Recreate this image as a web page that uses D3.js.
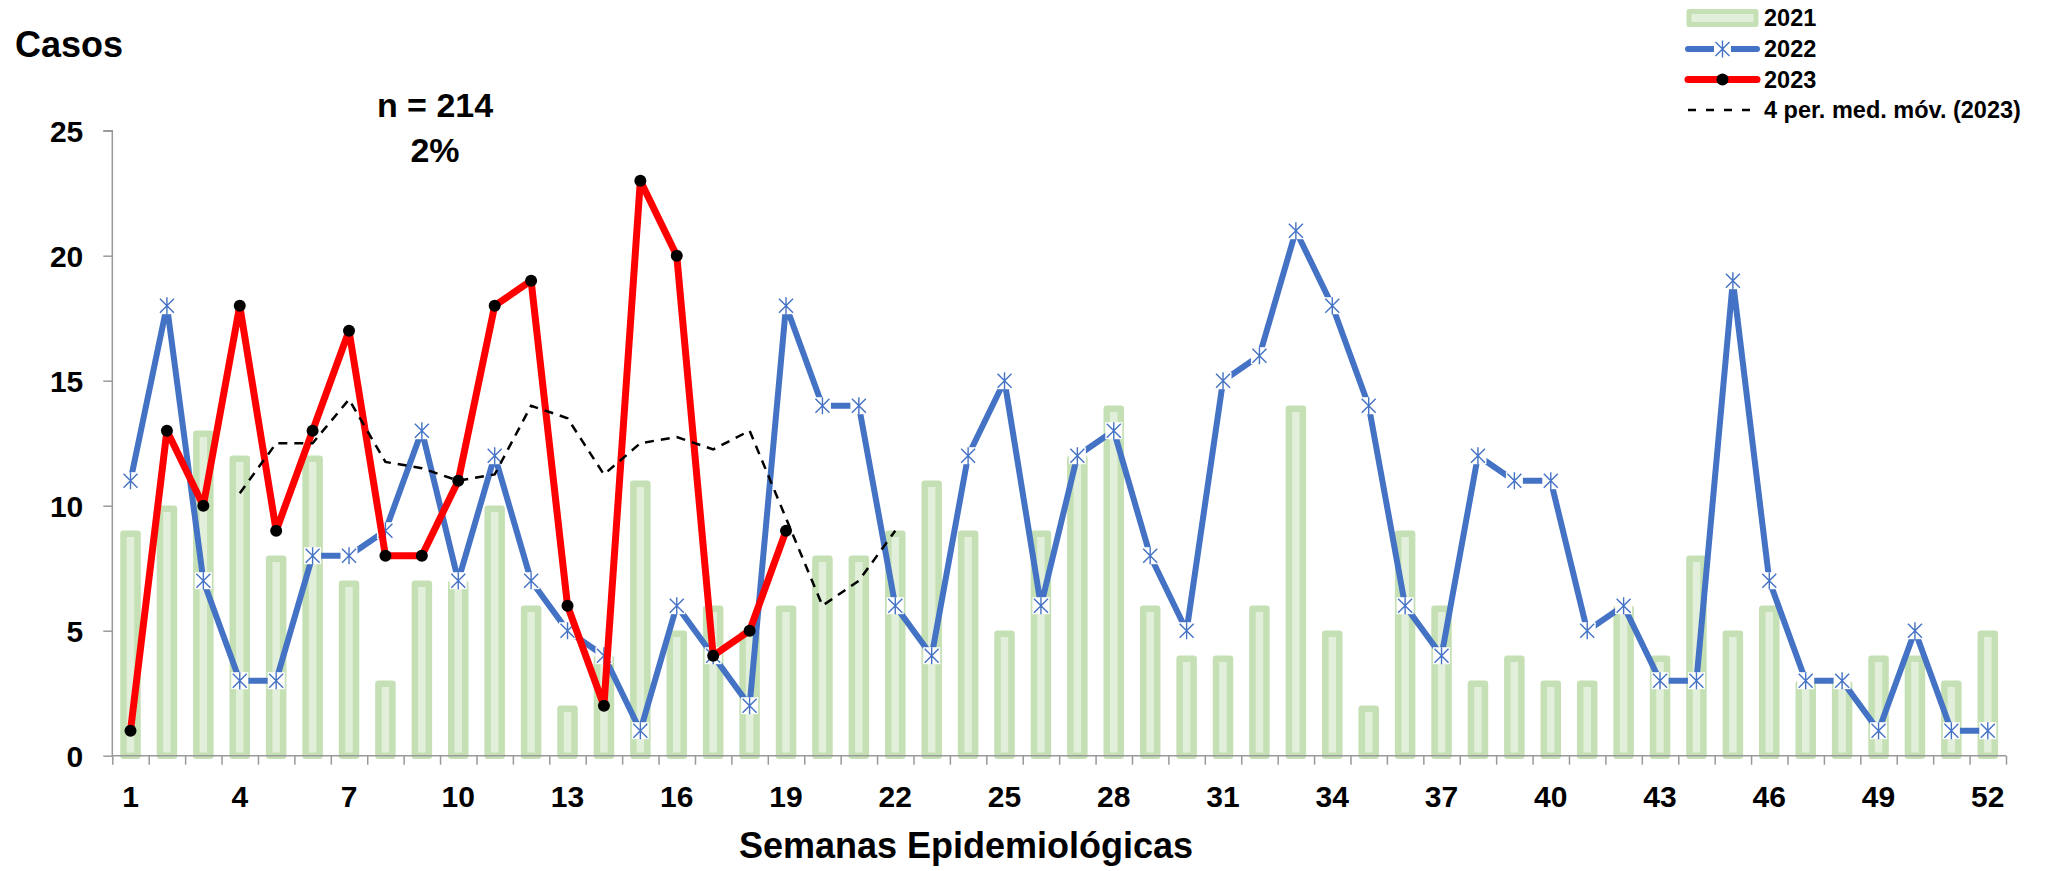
<!DOCTYPE html>
<html>
<head>
<meta charset="utf-8">
<script src="https://cdn.jsdelivr.net/npm/d3@7"></script>
<style>
  body { margin: 0; background: #fff; }
  text { font-family: "Liberation Sans", Arial, sans-serif; font-weight: bold; fill: #000; }
</style>
</head>
<body>
<div id="chart"></div>
<script>
// Data
const weeks = d3.range(1, 53);
const xLabels = [1, 4, 7, 10, 13, 16, 19, 22, 25, 28, 31, 34, 37, 40, 43, 46, 49, 52];
const yTicks = [0, 5, 10, 15, 20, 25];

const cases2021 = [9, 10, 13, 12, 8, 12, 7, 3, 7, 7, 10, 6, 2, 4, 11, 5, 6, 5, 6, 8,
  8, 9, 11, 9, 5, 9, 12, 14, 6, 4, 4, 6, 14, 5, 2, 9, 6, 3, 4, 3,
  3, 6, 4, 8, 5, 6, 3, 3, 4, 4, 3, 5];
const cases2022 = [11, 18, 7, 3, 3, 8, 8, 9, 13, 7, 12, 7, 5, 4, 1, 6, 4, 2, 18, 14,
  14, 6, 4, 12, 15, 6, 12, 13, 8, 5, 15, 16, 21, 18, 14, 6, 4, 12, 11, 11,
  5, 6, 3, 3, 19, 7, 3, 3, 1, 5, 1, 1];
const cases2023 = [1, 13, 10, 18, 9, 13, 17, 8, 8, 11, 18, 19, 6, 2, 23, 20, 4, 5, 9];
// 4-period moving average trendline (2023), weeks 4..22
const movAvgWeeks = d3.range(4, 23);
const movAvg2023 = [10.5, 12.5, 12.5, 14.25, 11.75, 11.5, 11, 11.25, 14, 13.5,
  11.25, 12.5, 12.75, 12.25, 13, 9.5, 6, 7, 9];

// Base variables
const w = 2046;
const h = 871;
const x0 = 112.3, x1 = 2006;
const yTop = 130.7, yBottom = 755.7;

const green = "#c5e0b4", greenFill = "#e2efda";
const blue = "#4472c4", red = "#ff0000";

const svg = d3.select("#chart").append("svg")
  .attr("width", w).attr("height", h);

// Scales
const xScale = d3.scaleBand().domain(weeks).range([x0, x1]).padding(0);
const xc = d => xScale(d) + xScale.bandwidth() / 2;
const xEdges = d3.scaleLinear().domain([0, 52]).range([x0, x1]);
const yScale = d3.scaleLinear().domain([0, 25]).range([yBottom, yTop]);

// Bars 2021
svg.append("g").selectAll("rect")
  .data(weeks)
  .enter().append("rect")
  .attr("x", d => xc(d) - 7)
  .attr("width", 14)
  .attr("y", (d, i) => yScale(cases2021[i]) + 3)
  .attr("height", (d, i) => yBottom - yScale(cases2021[i]) - 3)
  .attr("fill", greenFill)
  .attr("stroke", green)
  .attr("stroke-width", 6.5)
  .attr("stroke-linejoin", "round");

// y-axis
const yAxis = svg.append("g")
  .attr("transform", `translate(${x0}, 0)`)
  .call(d3.axisLeft(yScale).tickValues(yTicks).tickSize(9).tickPadding(20));
yAxis.selectAll("path, line").attr("stroke", "#999").attr("stroke-width", 1.5);
yAxis.select(".domain").attr("d", `M-9,${yTop}H0V${yBottom}`);
yAxis.selectAll("text").style("font-size", "30px").attr("dy", "0.36em");

// x-axis: boundary ticks
const xAxisTicks = svg.append("g")
  .attr("transform", `translate(0, ${yBottom})`)
  .call(d3.axisBottom(xEdges).ticks(52).tickValues(d3.range(0, 53)).tickSize(9).tickFormat(""));
xAxisTicks.selectAll("path, line").attr("stroke", "#999").attr("stroke-width", 1.5);
xAxisTicks.select(".domain").attr("d", `M${x0},0H${x1}`);

// x-axis: labels
const xAxisLabels = svg.append("g")
  .attr("transform", `translate(0, ${yBottom})`)
  .call(d3.axisBottom(xScale).tickValues(xLabels).tickSize(0).tickPadding(30));
xAxisLabels.select(".domain").remove();
xAxisLabels.selectAll("text").style("font-size", "30px").attr("dy", "0.71em");

// 2022 line
const line = d3.line().x(d => xc(d[0])).y(d => yScale(d[1]));
svg.append("path")
  .datum(weeks.map((wk, i) => [wk, cases2022[i]]))
  .attr("d", line)
  .attr("fill", "none")
  .attr("stroke", blue)
  .attr("stroke-width", 6)
  .attr("stroke-linejoin", "round");

const star = "M-7,-7L7,7M-7,7L7,-7M0,-8.5L0,8.5";
const markers = svg.append("g").selectAll("g")
  .data(weeks)
  .enter().append("g")
  .attr("transform", (d, i) => `translate(${xc(d)}, ${yScale(cases2022[i])})`);
markers.append("rect")
  .attr("x", -8.5).attr("y", -8.5).attr("width", 17).attr("height", 17)
  .attr("fill", "#fff");
markers.append("path")
  .attr("d", star)
  .attr("stroke", blue)
  .attr("stroke-width", 1.4)
  .attr("fill", "none");

// 2023 line
svg.append("path")
  .datum(cases2023.map((v, i) => [weeks[i], v]))
  .attr("d", line)
  .attr("fill", "none")
  .attr("stroke", red)
  .attr("stroke-width", 7)
  .attr("stroke-linejoin", "round");

svg.append("g").selectAll("circle")
  .data(cases2023)
  .enter().append("circle")
  .attr("cx", (d, i) => xc(weeks[i]))
  .attr("cy", d => yScale(d))
  .attr("r", 6)
  .attr("fill", "#000");

// moving average trendline
svg.append("path")
  .datum(movAvgWeeks.map((wk, i) => [wk, movAvg2023[i]]))
  .attr("d", line)
  .attr("fill", "none")
  .attr("stroke", "#000")
  .attr("stroke-width", 2.5)
  .attr("stroke-dasharray", "9,7");

// Titles
svg.append("text").attr("x", 15).attr("y", 57)
  .style("font-size", "36px").text("Casos");
svg.append("text").attr("x", 435).attr("y", 117).attr("text-anchor", "middle")
  .style("font-size", "34px").text("n = 214");
svg.append("text").attr("x", 435).attr("y", 162).attr("text-anchor", "middle")
  .style("font-size", "34px").text("2%");
svg.append("text").attr("x", 966).attr("y", 858).attr("text-anchor", "middle")
  .style("font-size", "36px").text("Semanas Epidemiológicas");

// Legend
const lg = svg.append("g");
const lx0 = 1688, lx1 = 1757, lmid = (lx0 + lx1) / 2, ltx = 1764;
const rows = [18, 49, 79.5, 110];
const legendLabels = ["2021", "2022", "2023", "4 per. med. móv. (2023)"];

lg.append("rect")
  .attr("x", lx0 + 1).attr("y", rows[0] - 6.5).attr("width", lx1 - lx0 - 2).attr("height", 13)
  .attr("fill", greenFill).attr("stroke", green).attr("stroke-width", 5)
  .attr("stroke-linejoin", "round");

lg.append("line")
  .attr("x1", lx0).attr("x2", lx1).attr("y1", rows[1]).attr("y2", rows[1])
  .attr("stroke", blue).attr("stroke-width", 6).attr("stroke-linecap", "round");
lg.append("rect")
  .attr("x", lmid - 8.5).attr("y", rows[1] - 8.5).attr("width", 17).attr("height", 17)
  .attr("fill", "#fff");
lg.append("path")
  .attr("transform", `translate(${lmid}, ${rows[1]})`)
  .attr("d", star).attr("stroke", blue).attr("stroke-width", 1.4).attr("fill", "none");

lg.append("line")
  .attr("x1", lx0).attr("x2", lx1).attr("y1", rows[2]).attr("y2", rows[2])
  .attr("stroke", red).attr("stroke-width", 7).attr("stroke-linecap", "round");
lg.append("circle").attr("cx", lmid).attr("cy", rows[2]).attr("r", 6).attr("fill", "#000");

lg.append("line")
  .attr("x1", lx0).attr("x2", lx1 - 2).attr("y1", rows[3]).attr("y2", rows[3])
  .attr("stroke", "#000").attr("stroke-width", 2.5).attr("stroke-dasharray", "8,10");

lg.selectAll("text.lbl")
  .data(legendLabels)
  .enter().append("text")
  .attr("class", "lbl")
  .attr("x", ltx)
  .attr("y", (d, i) => rows[i])
  .attr("dy", "0.36em")
  .style("font-size", "23.5px")
  .text(d => d);
</script>
</body>
</html>
